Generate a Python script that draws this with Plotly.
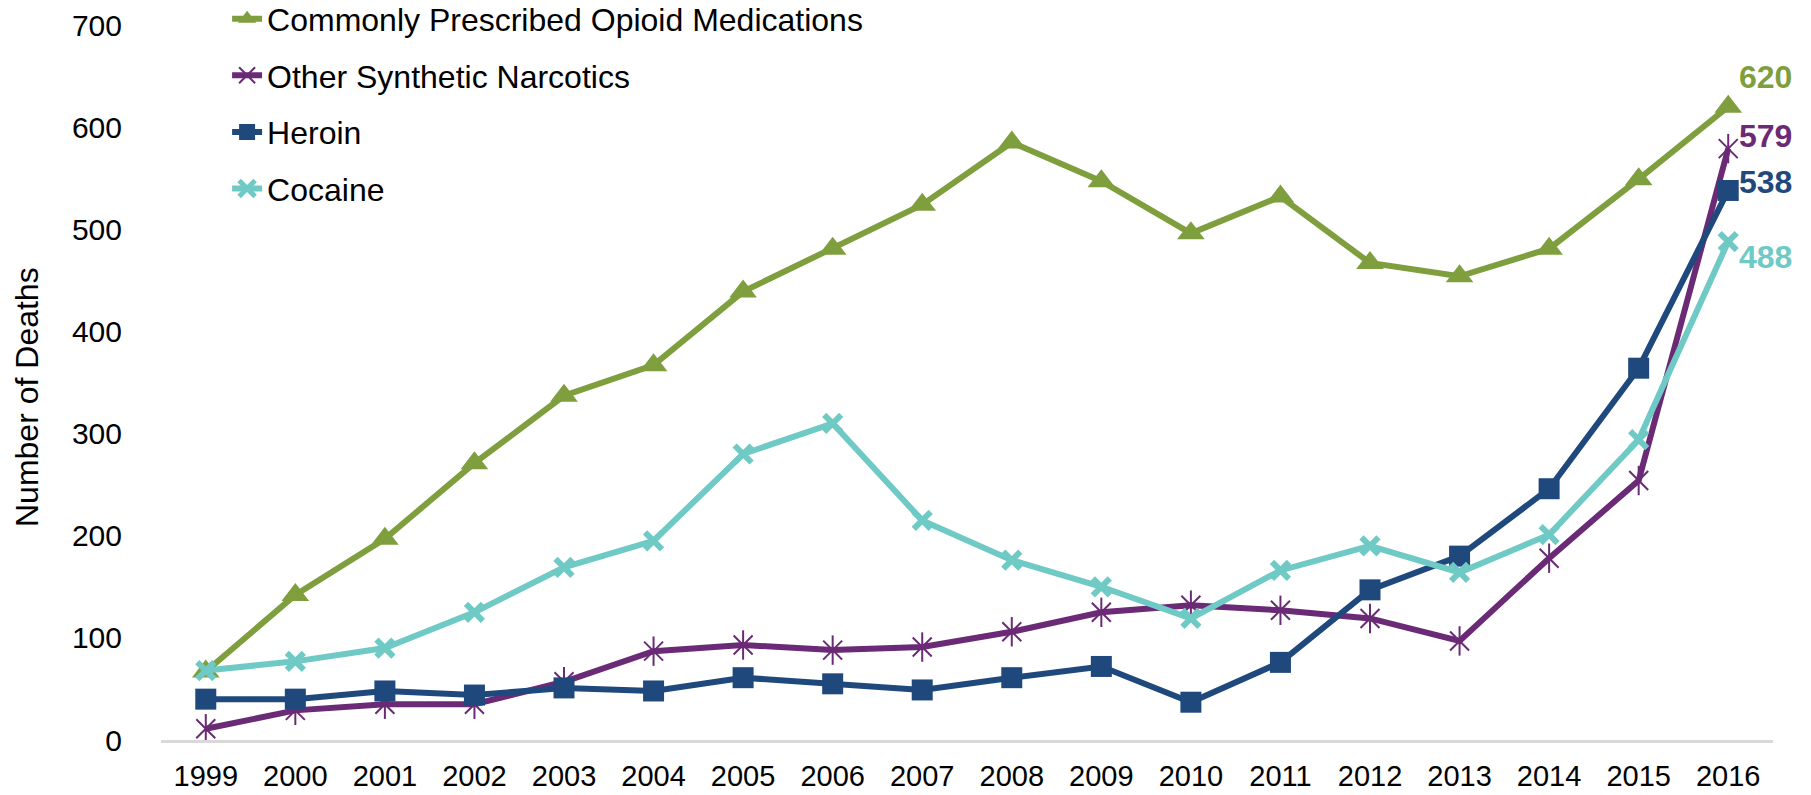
import plotly.graph_objects as go

# Annual deaths by drug type
years = [str(y) for y in range(1999, 2017)]

prescribed_opioids = [67, 142, 197, 271, 337, 367, 439, 481, 524, 585, 547, 496, 532, 467, 454, 481, 549, 620]
synthetic_narcotics = [11, 29, 35, 35, 57, 87, 93, 88, 91, 106, 125, 132, 127, 119, 97, 178, 254, 579]
heroin = [40, 40, 48, 44, 51, 48, 61, 55, 49, 61, 72, 37, 76, 147, 180, 246, 364, 538]
cocaine = [68, 77, 90, 125, 169, 195, 280, 310, 215, 176, 150, 119, 166, 190, 164, 201, 294, 488]

GREEN = "#7F9F3E"
PURPLE = "#6B2A75"
NAVY = "#1F497D"
TEAL = "#6FCAC5"
FONT = "Arial, Liberation Sans, sans-serif"
LINE_W = 6

fig = go.Figure()

fig.add_trace(go.Scatter(
    x=years, y=prescribed_opioids, name="Commonly Prescribed Opioid Medications",
    mode="lines+markers", legendgroup="g1",
    line=dict(color=GREEN, width=LINE_W),
    marker=dict(symbol="triangle-up", size=24, color=GREEN),
))

fig.add_trace(go.Scatter(
    x=years, y=synthetic_narcotics, name="Other Synthetic Narcotics",
    mode="lines+markers", legendgroup="g2",
    line=dict(color=PURPLE, width=LINE_W),
    marker=dict(symbol="x-thin", size=19, color=PURPLE, line=dict(width=2, color=PURPLE)),
))
# vertical stroke completing the star marker
fig.add_trace(go.Scatter(
    x=years, y=synthetic_narcotics, mode="markers", legendgroup="g2",
    showlegend=False, hoverinfo="skip",
    marker=dict(symbol="line-ns", size=21, color=PURPLE, line=dict(width=2, color=PURPLE)),
))

fig.add_trace(go.Scatter(
    x=years, y=heroin, name="Heroin",
    mode="lines+markers", legendgroup="g3",
    line=dict(color=NAVY, width=LINE_W),
    marker=dict(symbol="square", size=21, color=NAVY),
))

fig.add_trace(go.Scatter(
    x=years, y=cocaine, name="Cocaine",
    mode="lines+markers", legendgroup="g4",
    line=dict(color=TEAL, width=LINE_W),
    marker=dict(symbol="x-thin", size=17, color=TEAL, line=dict(width=6, color=TEAL)),
))

# End-of-series value labels (pixel offsets from the final point)
last = len(years) - 1
end_labels = [
    (prescribed_opioids[-1], GREEN, 30),
    (synthetic_narcotics[-1], PURPLE, 13),
    (heroin[-1], NAVY, 8),
    (cocaine[-1], TEAL, -15),
]
for value, color, dy in end_labels:
    fig.add_annotation(
        x=last, y=value, xref="x", yref="y",
        text=f"<b>{value}</b>", showarrow=False,
        xanchor="left", yanchor="middle", xshift=9, yshift=dy,
        font=dict(family=FONT, size=32, color=color),
    )

# Y-axis title
fig.add_annotation(
    x=-0.083, y=0.48, xref="paper", yref="paper",
    text="Number of Deaths", textangle=-90, showarrow=False,
    xanchor="center", yanchor="middle",
    font=dict(family=FONT, size=32, color="black"),
)

fig.update_layout(
    width=1811, height=795,
    margin=dict(l=161, r=38, t=25, b=55, autoexpand=False),
    paper_bgcolor="white", plot_bgcolor="white",
    font=dict(family=FONT, size=29, color="black"),
    showlegend=True,
    legend=dict(
        x=0.041, y=1.047, xanchor="left", yanchor="top",
        font=dict(family=FONT, size=32, color="black"),
        bgcolor="rgba(0,0,0,0)", traceorder="grouped", tracegroupgap=12,
    ),
    xaxis=dict(
        type="category", range=[-0.5, 17.5],
        showline=True, linecolor="#D9D9D9", linewidth=3,
        showgrid=False, zeroline=False, ticks="",
        ticklabelstandoff=8,
        tickfont=dict(family=FONT, size=29, color="black"),
    ),
    yaxis=dict(
        range=[0, 700], dtick=100,
        showline=False, showgrid=False, zeroline=False, ticks="",
        ticklabelstandoff=38,
        tickfont=dict(family=FONT, size=30, color="black"),
    ),
)

fig.write_html("out.html")
